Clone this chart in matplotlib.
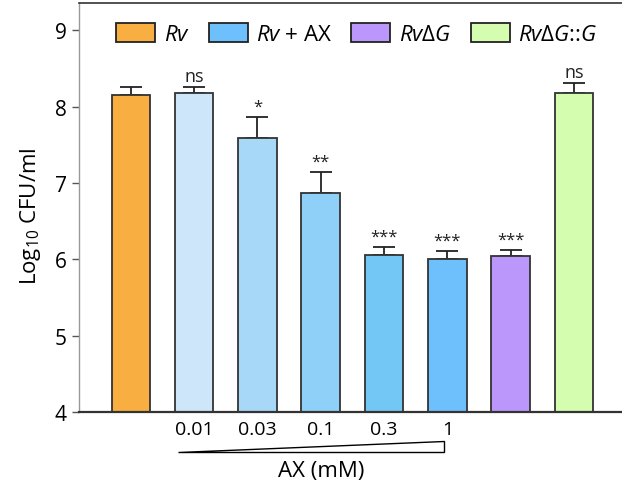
import numpy as np
import matplotlib
matplotlib.use("Agg")
import matplotlib.pyplot as plt
from matplotlib.patches import Polygon, Patch
from matplotlib.transforms import blended_transform_factory

plt.rcParams['font.family'] = ['Open Sans', 'DejaVu Sans']
plt.rcParams['mathtext.fontset'] = 'custom'
plt.rcParams['mathtext.rm'] = 'Open Sans'
plt.rcParams['mathtext.it'] = 'Open Sans:italic'

# data
groups = ['Rv', '0.01', '0.03', '0.1', '0.3', '1', 'RvdG', 'RvdG::G']
tick_labels = ['', '0.01', '0.03', '0.1', '0.3', '1', '', '']
means = [8.15, 8.175, 7.59, 6.87, 6.06, 6.01, 6.045, 8.18]
errs = [0.11, 0.08, 0.275, 0.27, 0.10, 0.10, 0.08, 0.13]
signif = ['', 'ns', '*', '**', '***', '***', '***', 'ns']
colors = ['#F9AE42', '#CDE6F9', '#A7D8F8', '#8FD0F8', '#72C7F4', '#6EC0FD', '#BB97FB', '#D4FDB0']

legend_labels = [r'$\it{Rv}$', r'$\it{Rv}$ + AX', r'$\it{Rv\Delta G}$', r'$\it{Rv\Delta G}$::$\it{G}$']
legend_colors = ['#F9AE42', '#6EC0FD', '#BB97FB', '#D4FDB0']

fig = plt.figure(figsize=(6.22, 4.89), dpi=100)
ax = fig.add_axes([79 / 622, 1 - 413 / 489, (622 - 79) / 622, (413 - 4) / 489])

x = np.arange(len(means))
ax.bar(x, means, width=0.61, bottom=0, color=colors, edgecolor='#333333', linewidth=1.3, zorder=2)
ax.errorbar(x, means, yerr=[np.zeros(len(errs)), errs], fmt='none', ecolor='#222222',
            elinewidth=1.3, capsize=8, capthick=1.3, zorder=1)

for xi, m, e, s in zip(x, means, errs, signif):
    if s:
        ax.text(xi, m + e + 0.03, s, ha='center', va='bottom', fontsize=13 if s == 'ns' else 12,
                color='#222222')

ax.set_xlim(-0.82, 7.76)
ax.set_ylim(4, 9.36)
ax.set_yticks([4, 5, 6, 7, 8, 9])
ax.tick_params(axis='y', labelsize=15, length=5, width=1, color='#555555', pad=4)
ax.set_xticks(x)
ax.set_xticklabels(tick_labels)
ax.tick_params(axis='x', length=0, labelsize=14, pad=6)
ax.set_ylabel(r'Log$_{10}$ CFU/ml', fontsize=16)
ax.yaxis.set_label_coords(-0.066, 0.482)

ax.spines['right'].set_visible(False)
ax.spines['left'].set_color('#999999')
ax.spines['left'].set_linewidth(1)
ax.spines['bottom'].set_color('#333333')
ax.spines['bottom'].set_linewidth(1.6)
ax.spines['top'].set_color('#333333')
ax.spines['top'].set_linewidth(1.2)

# concentration wedge below the AX bars
x0, x1 = x[1] - 0.26, x[5] - 0.06
tri = Polygon([[x0, 3.476], [x1, 3.476], [x1, 3.62]], closed=True, facecolor='white',
              edgecolor='black', linewidth=1, clip_on=False)
ax.add_patch(tri)
trans = blended_transform_factory(ax.transData, ax.transAxes)
ax.text(x[1:6].mean(), -0.143, 'AX (mM)', transform=trans, ha='center', va='center', fontsize=16)

handles = [Patch(facecolor=c, edgecolor='#222222', linewidth=1.3) for c in legend_colors]
ax.legend(handles, legend_labels, ncol=4, frameon=False, loc='upper left',
          bbox_to_anchor=(0.068, 0.952), fontsize=16, handlelength=1.75, handleheight=0.95,
          columnspacing=0.85, handletextpad=0.4, borderaxespad=0, borderpad=0)

fig.savefig('out.png', dpi=100)
